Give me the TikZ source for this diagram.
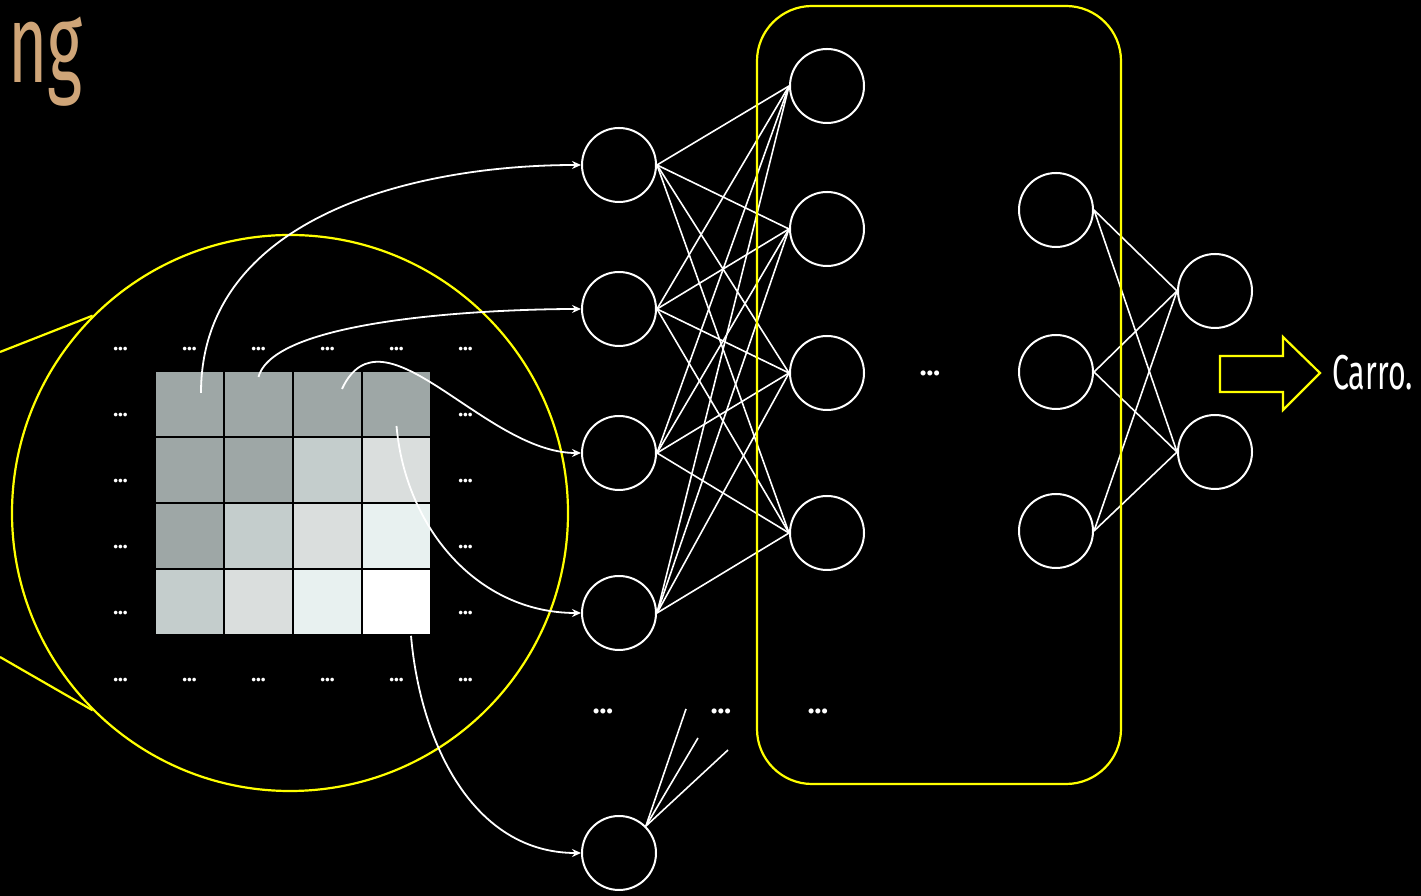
\documentclass[tikz,border=0pt]{standalone}
\usepackage{fontspec}
\setmainfont{Fira Sans}[FakeStretch=0.62]
\newfontfamily\headfont{Fira Sans}[FakeStretch=0.6]
\newfontfamily\dotsfont{Fira Sans}
\usetikzlibrary{arrows.meta,positioning,calc}
\definecolor{lensc}{HTML}{FFFF00}
\definecolor{titlec}{HTML}{CFA578}
\definecolor{pxa}{HTML}{9EA7A6}
\definecolor{pxb}{HTML}{C4CDCC}
\definecolor{pxc}{HTML}{DADEDD}
\definecolor{pxd}{HTML}{E8F1F0}
\definecolor{pxe}{HTML}{FFFFFF}
\tikzset{
  neuron/.style={circle,draw=white,line width=2pt,minimum size=74pt,inner sep=0pt},
  syn/.style={draw=white,line width=1.6pt},
  feed/.style={-{Stealth[length=9pt,width=8pt,inset=3pt]},draw=white,line width=1.8pt},
  pix/.style={draw=black,line width=1.6pt,minimum width=69pt,minimum height=66pt,inner sep=0pt},
  ell/.style={text=white,font=\dotsfont\bfseries\fontsize{20}{20}\selectfont,inner sep=0pt},
  bigell/.style={ell,font=\dotsfont\bfseries\fontsize{28}{28}\selectfont},
  hl/.style={draw=lensc,line width=2.2pt},
  lbl/.style={text=white,font=\fontsize{49}{50}\selectfont,inner sep=0pt}
}
\begin{document}
\begin{tikzpicture}[x=1pt,y=1pt]
  \fill[black] (0,0) rectangle (1421,896);
  \useasboundingbox (0,0) rectangle (1421,896);
  \node[anchor=base east,text=titlec,inner sep=0pt,
    font=\headfont\fontsize{112}{112}\selectfont] (ttl) at (83,813) {ng};
  % pixel patch
  \foreach \r/\c/\f in {1/1/pxa,1/2/pxa,1/3/pxa,1/4/pxa,2/1/pxa,2/2/pxa,2/3/pxb,2/4/pxc,
      3/1/pxa,3/2/pxb,3/3/pxc,3/4/pxd,4/1/pxb,4/2/pxc,4/3/pxd,4/4/pxe}
    \node[pix,fill=\f] (p\r\c) at ({189.5+69*(\c-1)},{492-66*(\r-1)}) {};
  \foreach \c in {0,...,5}{
    \node[ell] (dt\c) at ({120.5+69*\c},547) {...};
    \node[ell] (db\c) at ({120.5+69*\c},216) {...};
  }
  \foreach \r in {1,...,4}{
    \node[ell] (dl\r) at (120.5,{481-66*(\r-1)}) {...};
    \node[ell] (dr\r) at (465.5,{481-66*(\r-1)}) {...};
  }
  % layers
  \foreach \n/\y in {1/731,2/587,3/443,4/283,5/43} \node[neuron] (i\n) at (619,\y) {};
  \foreach \n/\y in {1/810,2/667,3/523,4/363} \node[neuron] (h\n) at (827,\y) {};
  \foreach \n/\y in {1/686,2/524,3/365} \node[neuron] (t\n) at (1056,\y) {};
  \foreach \n/\y in {1/605,2/444} \node[neuron] (o\n) at (1215,\y) {};
  \foreach \a in {1,...,4}
    \foreach \b in {1,...,4} \draw[syn] (i\a.east) -- (h\b.west);
  \foreach \a in {1,...,3}
    \foreach \b in {1,2} \draw[syn] (t\a.east) -- (o\b.west);
  \coordinate (s1) at (686,187);
  \coordinate (s2) at (698,158);
  \coordinate (s3) at (728,146);
  \foreach \s in {s1,s2,s3} \draw[syn] (i5.north east) -- (\s);
  \node[bigell] (e1) at (603,185) {...};
  \node[bigell] (e2) at (721,185) {...};
  \node[bigell] (e3) at (818,185) {...};
  \node[bigell] (e4) at (930,523) {...};
  % hidden block and lens
  \node[hl,rounded corners=55pt,minimum width=364pt,minimum height=778pt] (blk) at (939,501) {};
  \node[hl,circle,minimum size=556pt,inner sep=0pt] (lens) at (290,383) {};
  \coordinate (z1) at (0,544);
  \coordinate (z2) at (0,239);
  \draw[hl] (z1) -- (lens.135);
  \draw[hl] (z2) -- (lens.225);
  % pixels into the input layer
  \draw[feed] ([shift={(11.5,11)}]p11.center) to[out=90,in=180] (i1);
  \draw[feed] ([shift={(0,27)}]p12.center) to[out=75,in=180,looseness=0.5] (i2);
  \draw[feed] ([shift={(14.5,15)}]p13.center) to[out=65,in=180] (i3);
  \draw[feed] ([shift={(0,-22)}]p14.center) to[out=-85,in=180] (i4);
  \draw[feed] ([xshift=14.5pt]p44.south) to[out=-85,in=180] (i5);
  % output
  \coordinate (tip) at (1320,523);
  \draw[hl,fill=black] (1220,540) -- (1283,540) -- (1283,559) -- (tip) -- (1283,486)
    -- (1283,504) -- (1220,504) -- cycle;
  \node[lbl,anchor=west,right=12pt of tip] (res) {Carro.};
\end{tikzpicture}
\end{document}
